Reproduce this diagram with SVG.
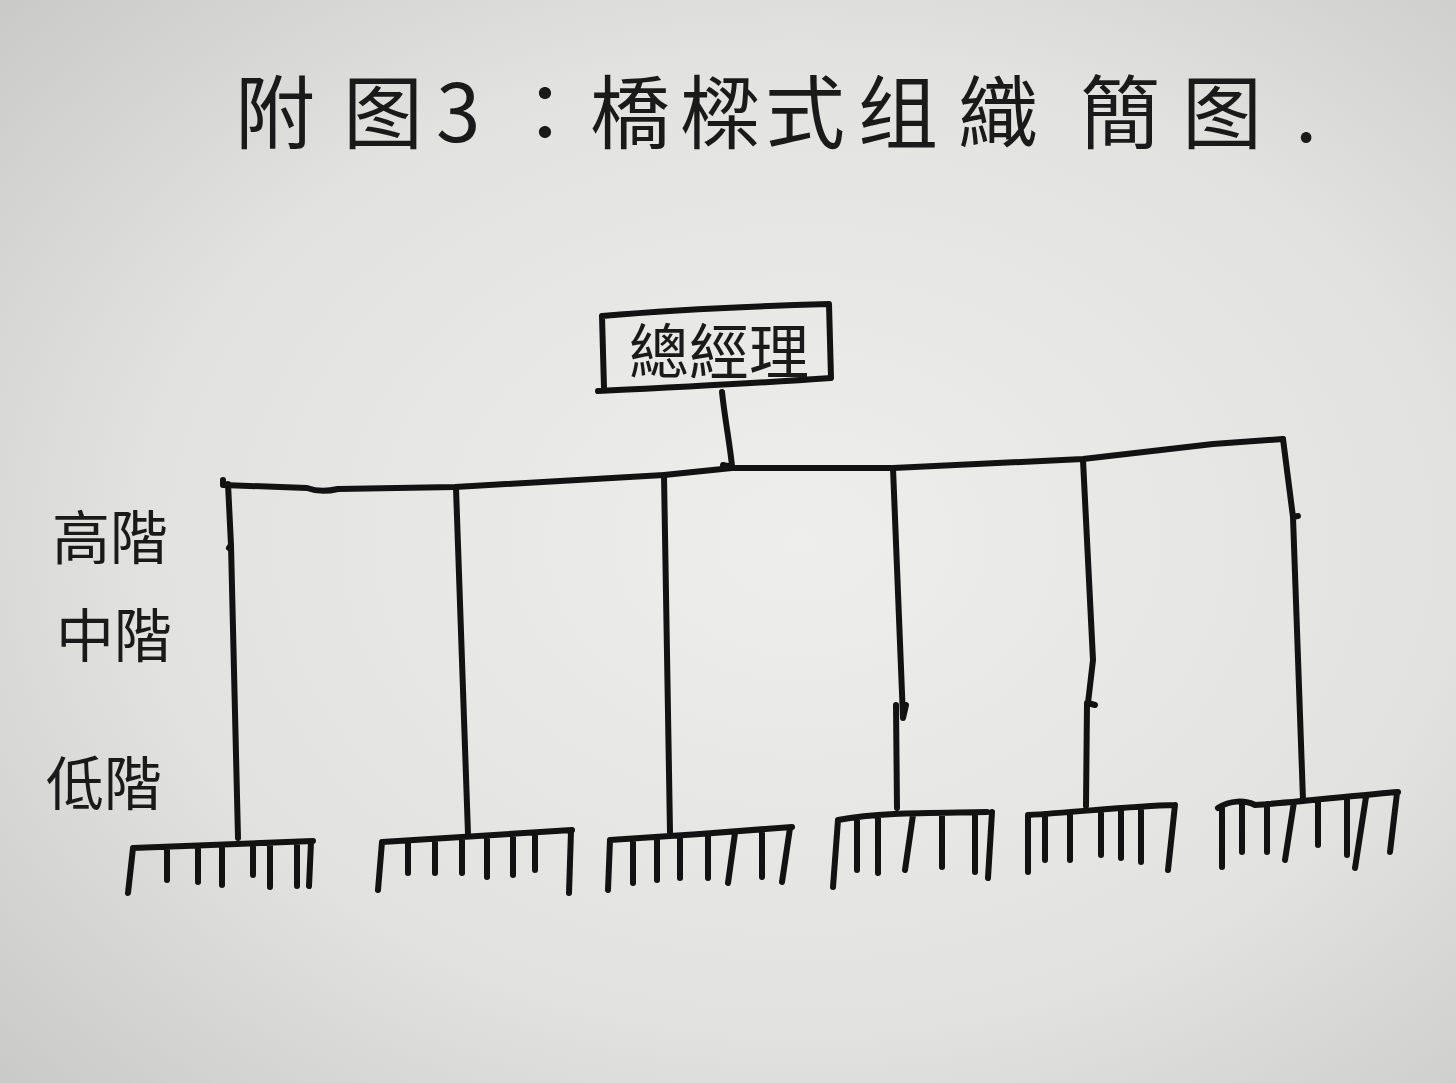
<svg xmlns="http://www.w3.org/2000/svg" width="1456" height="1083" viewBox="0 0 1456 1083">
  <defs>
    <radialGradient id="paper" cx="0.55" cy="0.5" r="0.75">
      <stop offset="0" stop-color="#eeeeec"/>
      <stop offset="0.6" stop-color="#e2e2e0"/>
      <stop offset="1" stop-color="#c9c9c7"/>
    </radialGradient>
    <style>
      .ink { fill: none; stroke: #121212; stroke-width: 6; stroke-linecap: round; stroke-linejoin: round; }
      .txt { fill: #1a1a1a; font-family: "Noto Sans CJK TC", "Noto Sans CJK SC", sans-serif; font-weight: 400; }
      .title { font-size: 80px; }
      .lvl { font-size: 58px; }
      .gm { font-size: 60px; }
    </style>
  </defs>

  <rect x="0" y="0" width="1456" height="1083" fill="url(#paper)"/>

  <g id="title">
    <text class="txt title" y="142" x="235 343 436 505 590 680 765 858 958 1080 1182 1295">附图3：橋樑式组織簡图.</text>
  </g>

  <g id="levels">
    <text class="txt lvl" x="52" y="559">高階</text>
    <text class="txt lvl" x="56" y="657">中階</text>
    <text class="txt lvl" x="46" y="805">低階</text>
  </g>

  <g id="node-gm">
    <path class="ink" d="M602,316 C660,311 760,306 829,304 L831,378 C760,383 660,388 598,391 M602,316 L604,388"/>
    <text class="txt gm" x="719" y="374" text-anchor="middle">總經理</text>
  </g>

  <g id="connectors">
    <path class="ink" d="M722,392 C725,420 730,445 732,466 M723,465 L732,467"/>
    <path class="ink" d="M223,480 L223,485 L307,488 C315,491 325,492 338,489 L455,487 L664,475 L732,468 L893,468 L1083,459 L1213,444 L1283,439"/>
    <path class="ink" d="M228,484 L231,545 L229,548 M231,545 L238,838"/>
    <path class="ink" d="M456,488 L468,834"/>
    <path class="ink" d="M664,475 L670,832"/>
    <path class="ink" d="M893,468 L903,718 L906,705 M896,705 L897,808"/>
    <path class="ink" d="M1083,460 L1093,660 L1088,703 L1095,705 M1087,703 L1086,806"/>
    <path class="ink" d="M1283,439 L1293,517 L1298,516 M1293,517 L1303,800"/>
  </g>

  <g id="unit-1">
    <path class="ink" d="M133,848 C200,845 260,843 313,841 M133,848 L128,893 M167,849 L167,880 M198,848 L198,882 M222,848 L222,885 M253,846 L253,875 M270,846 L270,887 M297,845 L297,886 M311,842 L309,886"/>
  </g>
  <g id="unit-2">
    <path class="ink" d="M382,842 L572,830 M382,842 L378,890 M408,841 L408,873 M435,840 L435,873 M462,838 L462,873 M487,837 L487,877 M513,836 L513,875 M535,834 L535,870 M571,831 L569,893"/>
  </g>
  <g id="unit-3">
    <path class="ink" d="M610,840 L700,834 L792,827 M610,840 L608,890 M633,839 L633,883 M657,838 L657,880 M680,836 L680,878 M708,834 L708,878 M735,833 L728,883 M762,831 L762,877 M790,828 L782,882"/>
  </g>
  <g id="unit-4">
    <path class="ink" d="M838,820 C880,812 930,813 987,812 M838,820 L833,887 M857,818 L857,870 M878,816 L878,873 M913,815 L905,870 M942,815 L942,867 M975,814 L975,872 M992,812 L988,878"/>
  </g>
  <g id="unit-5">
    <path class="ink" d="M1028,815 C1080,812 1130,806 1175,805 M1028,815 L1028,872 M1045,814 L1045,860 M1070,813 L1070,860 M1101,811 L1101,855 M1121,810 L1121,858 M1141,808 L1141,862 M1175,805 L1168,870"/>
  </g>
  <g id="unit-6">
    <path class="ink" d="M1218,808 C1230,800 1245,800 1255,805 C1300,802 1360,795 1398,792 M1222,808 L1222,867 M1242,805 L1242,852 M1267,804 L1267,852 M1294,802 L1285,860 M1318,801 L1318,845 M1347,799 L1347,855 M1366,797 L1355,868 M1397,793 L1390,852"/>
  </g>
</svg>
